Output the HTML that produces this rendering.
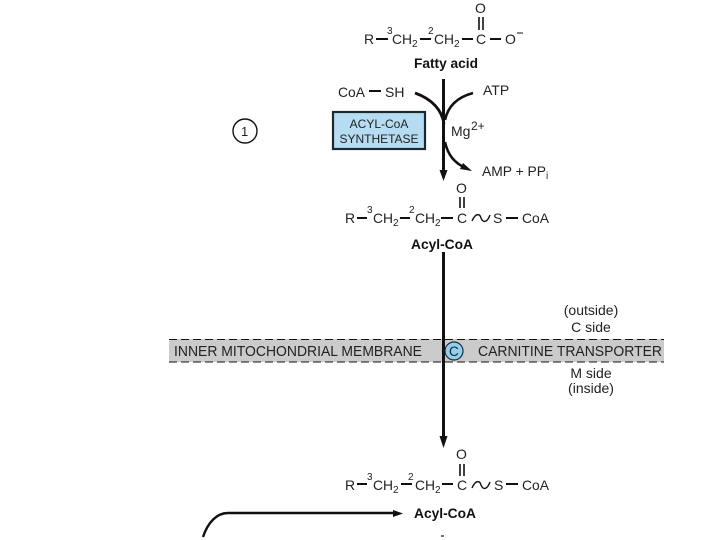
<!DOCTYPE html>
<html>
<head>
<meta charset="utf-8">
<style>
html,body{margin:0;padding:0;background:#fff;width:720px;height:540px;overflow:hidden}
svg{display:block}
text{font-family:"Liberation Sans",sans-serif;font-size:14px;fill:#222}
.b{font-weight:bold;font-size:13.5px;fill:#111}
.s{font-size:10px}
.t{font-size:12px}
.m{font-size:14px}
line,path.l{stroke:#111;fill:none}
</style>
</head>
<body>
<svg width="720" height="540" viewBox="0 0 720 540" xmlns="http://www.w3.org/2000/svg">
<!-- Fatty acid -->
<text x="364" y="44">R</text>
<line x1="376" y1="39" x2="388" y2="39" stroke-width="2"/>
<text x="387" y="34" class="s">3</text>
<text x="392" y="44" textLength="20" lengthAdjust="spacingAndGlyphs">CH</text><text x="412" y="47" class="s">2</text>
<line x1="420" y1="39" x2="431" y2="39" stroke-width="2"/>
<text x="428" y="34" class="s">2</text>
<text x="434" y="44" textLength="20" lengthAdjust="spacingAndGlyphs">CH</text><text x="454" y="47" class="s">2</text>
<line x1="462" y1="39" x2="473" y2="39" stroke-width="2"/>
<text x="476" y="44">C</text>
<line x1="479" y1="17" x2="479" y2="30" stroke-width="1.6"/>
<line x1="483" y1="17" x2="483" y2="30" stroke-width="1.6"/>
<text x="475" y="13">O</text>
<line x1="490" y1="39" x2="501" y2="39" stroke-width="2"/>
<text x="505" y="44">O</text>
<line x1="517" y1="33" x2="523" y2="33" stroke-width="1"/>
<text x="414" y="68" class="b" textLength="64" lengthAdjust="spacingAndGlyphs">Fatty acid</text>

<!-- Activation step -->
<circle cx="245" cy="131" r="12" fill="#fff" stroke="#111" stroke-width="1.4"/>
<text x="241" y="136" style="font-size:13px">1</text>
<text x="338" y="97" textLength="27" lengthAdjust="spacingAndGlyphs">CoA</text>
<line x1="369" y1="91" x2="381" y2="91" stroke-width="2"/>
<text x="385" y="97">SH</text>
<text x="483" y="95">ATP</text>
<rect x="333" y="112" width="92" height="37" fill="#b6dcf1" stroke="#1c2a30" stroke-width="2.2"/>
<text x="379" y="128" class="t" text-anchor="middle">ACYL-CoA</text>
<text x="379" y="143" class="t" text-anchor="middle">SYNTHETASE</text>
<line x1="443.5" y1="79" x2="443.5" y2="172" stroke-width="3"/>
<polygon points="439.5,170 447.5,170 443.5,181" fill="#111"/>
<path class="l" d="M415 93 C432 99 442 110 444 124" stroke-width="2.8"/>
<path class="l" d="M473 93 C458 97 448 106 445 120" stroke-width="2.6"/>
<path class="l" d="M445 142 C448 156 456 164 466 168" stroke-width="2.6"/>
<polygon points="463,163 472,171 460,169" fill="#111"/>
<text x="451" y="136">Mg</text><text x="471" y="130" class="t">2+</text>
<text x="482" y="176" textLength="64" lengthAdjust="spacingAndGlyphs">AMP + PP</text><text x="546" y="179" class="s">i</text>

<!-- Acyl-CoA 1 -->
<text x="345" y="223">R</text>
<line x1="357" y1="218" x2="367" y2="218" stroke-width="2"/>
<text x="367" y="213" class="s">3</text>
<text x="373" y="223" textLength="20" lengthAdjust="spacingAndGlyphs">CH</text><text x="393" y="226" class="s">2</text>
<line x1="400" y1="218" x2="410" y2="218" stroke-width="2"/>
<text x="409" y="213" class="s">2</text>
<text x="415" y="223" textLength="20" lengthAdjust="spacingAndGlyphs">CH</text><text x="435" y="226" class="s">2</text>
<line x1="441" y1="218" x2="453" y2="218" stroke-width="2"/>
<text x="457" y="223">C</text>
<line x1="460" y1="197" x2="460" y2="208" stroke-width="1.6"/>
<line x1="464" y1="197" x2="464" y2="208" stroke-width="1.6"/>
<text x="456" y="193">O</text>
<path class="l" d="M472 221 C476 212 480 214 481 218 C483 223 487 223 490 215" stroke-width="1.4"/>
<text x="493" y="223">S</text>
<line x1="506" y1="218" x2="518" y2="218" stroke-width="2"/>
<text x="522" y="223" textLength="27" lengthAdjust="spacingAndGlyphs">CoA</text>
<text x="411" y="249" class="b" textLength="62" lengthAdjust="spacingAndGlyphs">Acyl-CoA</text>

<!-- Membrane -->
<rect x="169" y="339" width="495" height="23" fill="#cbcbcb"/>
<line x1="169" y1="339.5" x2="664" y2="339.5" stroke-width="1.1" stroke-dasharray="8 4"/>
<line x1="169" y1="362" x2="664" y2="362" stroke-width="1.1" stroke-dasharray="8 4"/>
<text x="174" y="356" textLength="248" lengthAdjust="spacingAndGlyphs" style="font-size:14.5px">INNER MITOCHONDRIAL MEMBRANE</text>
<text x="478" y="356" textLength="184" lengthAdjust="spacingAndGlyphs" style="font-size:14.5px">CARNITINE TRANSPORTER</text>
<line x1="443.5" y1="252" x2="443.5" y2="440" stroke-width="3"/>
<polygon points="439.5,436 447.5,436 443.5,448" fill="#111"/>
<circle cx="454" cy="351" r="9" fill="#8fd0f0" stroke="#1c2a30" stroke-width="1.2"/>
<text x="449" y="356" style="font-size:13.5px">C</text>
<text x="591" y="315" text-anchor="middle" class="m">(outside)</text>
<text x="591" y="332" text-anchor="middle" class="m">C side</text>
<text x="591" y="378" text-anchor="middle" class="m">M side</text>
<text x="591" y="393" text-anchor="middle" class="m">(inside)</text>

<!-- Acyl-CoA 2 -->
<text x="345" y="490">R</text>
<line x1="357" y1="484" x2="367" y2="484" stroke-width="2"/>
<text x="367" y="480" class="s">3</text>
<text x="373" y="490" textLength="20" lengthAdjust="spacingAndGlyphs">CH</text><text x="393" y="493" class="s">2</text>
<line x1="401" y1="484" x2="412" y2="484" stroke-width="2"/>
<text x="408" y="480" class="s">2</text>
<text x="415" y="490" textLength="20" lengthAdjust="spacingAndGlyphs">CH</text><text x="435" y="493" class="s">2</text>
<line x1="442" y1="484" x2="453" y2="484" stroke-width="2"/>
<text x="457" y="490">C</text>
<line x1="460" y1="464" x2="460" y2="476" stroke-width="1.6"/>
<line x1="464" y1="464" x2="464" y2="476" stroke-width="1.6"/>
<text x="456" y="459">O</text>
<path class="l" d="M472 488 C476 479 480 481 481 485 C483 490 487 490 490 482" stroke-width="1.4"/>
<text x="494" y="490">S</text>
<line x1="506" y1="484" x2="518" y2="484" stroke-width="2"/>
<text x="522" y="490" textLength="27" lengthAdjust="spacingAndGlyphs">CoA</text>
<text x="414" y="518" class="b" textLength="62" lengthAdjust="spacingAndGlyphs">Acyl-CoA</text>
<path class="l" d="M203 537 C208 522 217 513 228 513 L396 513" stroke-width="2.4"/>
<polygon points="393,510 403,513.5 393,517" fill="#111"/>
<line x1="441" y1="536" x2="444" y2="536" stroke-width="1.2"/>
</svg>
</body>
</html>
